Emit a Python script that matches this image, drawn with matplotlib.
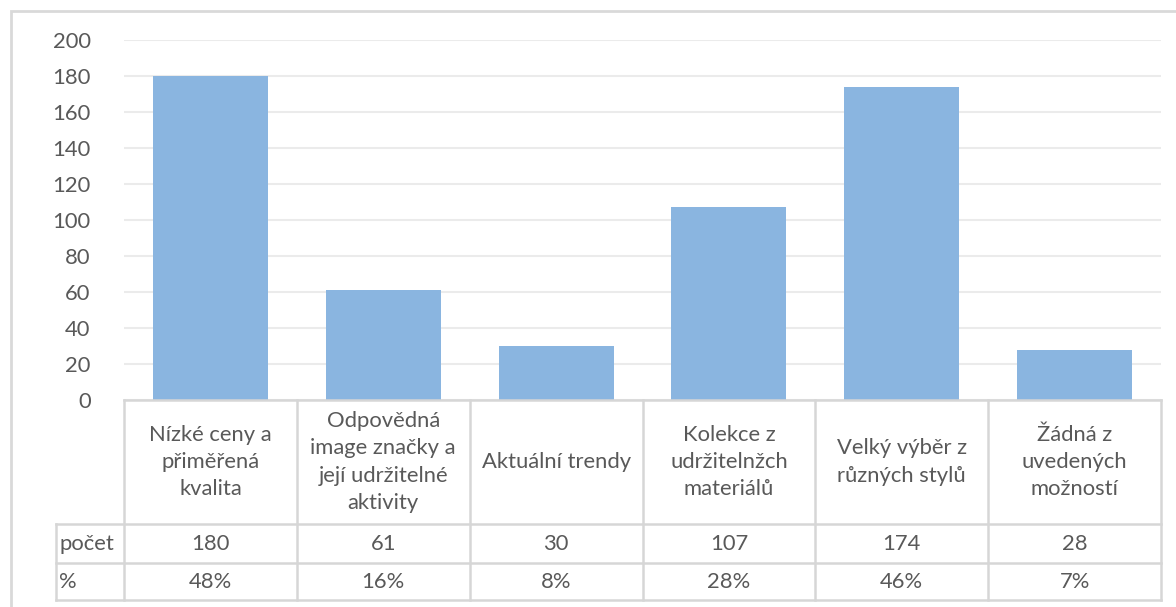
import matplotlib.pyplot as plt
from matplotlib.patches import Rectangle

categories = [
    "Nízké ceny a\npřiměřená\nkvalita",
    "Odpovědná\nimage značky a\njejí udržitelné\naktivity",
    "Aktuální trendy",
    "Kolekce z\nudržitelnžch\nmateriálů",
    "Velký výběr z\nrůzných stylů",
    "Žádná z\nuvedených\nmožností",
]
counts = [180, 61, 30, 107, 174, 28]
percents = ["48%", "16%", "8%", "28%", "46%", "7%"]
row_labels = ["počet", "%"]

BAR_COLOR = "#8ab5e0"
TEXT_COLOR = "#595959"
GRID_COLOR = "#ebebeb"
LINE_COLOR = "#d6d6d6"

W, H = 1176, 607
plt.rcParams['font.family'] = ['Lato', 'DejaVu Sans']
plt.rcParams['font.size'] = 15.8


def px(x0, y0, x1, y1):
    """pixel box (top-left origin) -> figure fraction rect"""
    return [x0 / W, 1 - y1 / H, (x1 - x0) / W, (y1 - y0) / H]


fig = plt.figure(figsize=(W / 100, H / 100), dpi=100)

# outer chart frame (clipped at right/bottom like the screenshot)
fig.patches.append(Rectangle((11 / W, -0.1), 1.2, 1 - 11 / H + 0.1,
                             transform=fig.transFigure, fill=False,
                             edgecolor="#d9d9d9", linewidth=2))

# bar plot
ax = fig.add_axes(px(124, 40, 1161, 400))
x = list(range(len(counts)))
ax.bar(x, counts, width=0.665, color=BAR_COLOR, zorder=2)
ax.set_xlim(-0.5, len(counts) - 0.5)
ax.set_ylim(0, 200)
ax.set_yticks(range(0, 201, 20))
ax.set_xticks([])
ax.tick_params(axis='y', length=0, pad=24, labelcolor=TEXT_COLOR, labelsize=15.8)
ax.grid(axis='y', color=GRID_COLOR, linewidth=1.5, zorder=0)
for s in ax.spines.values():
    s.set_visible(False)

# data table below
label_w = (124 - 56) / ((1161 - 124) / len(counts))
tab = fig.add_axes(px(56, 400, 1161, 600))
tab.set_xlim(-0.5 - label_w, len(counts) - 0.5)
row_edges = [0, 124, 163, 200]
tab.set_ylim(row_edges[-1], 0)
tab.axis('off')

left = -0.5 - label_w
right = len(counts) - 0.5
lw = 1.8
tab.plot([-0.5, right], [0, 0], color=LINE_COLOR, lw=lw, clip_on=False)
for y in row_edges[1:]:
    tab.plot([left, right], [y, y], color=LINE_COLOR, lw=lw, clip_on=False)
tab.plot([left, left], [row_edges[1], row_edges[-1]], color=LINE_COLOR, lw=lw, clip_on=False)
for i in range(len(counts) + 1):
    tab.plot([i - 0.5, i - 0.5], [0, row_edges[-1]], color=LINE_COLOR, lw=lw, clip_on=False)

for i, (cat, c, p) in enumerate(zip(categories, counts, percents)):
    tab.text(i, (row_edges[0] + row_edges[1]) / 2, cat, ha='center', va='center',
             color=TEXT_COLOR, linespacing=1.45)
    tab.text(i, (row_edges[1] + row_edges[2]) / 2, str(c), ha='center', va='center',
             color=TEXT_COLOR)
    tab.text(i, (row_edges[2] + row_edges[3]) / 2, p, ha='center', va='center',
             color=TEXT_COLOR)

for j, lab in enumerate(row_labels):
    tab.text(left + 0.02, (row_edges[j + 1] + row_edges[j + 2]) / 2, lab,
             ha='left', va='center', color=TEXT_COLOR)

fig.savefig("out.png", dpi=100)
